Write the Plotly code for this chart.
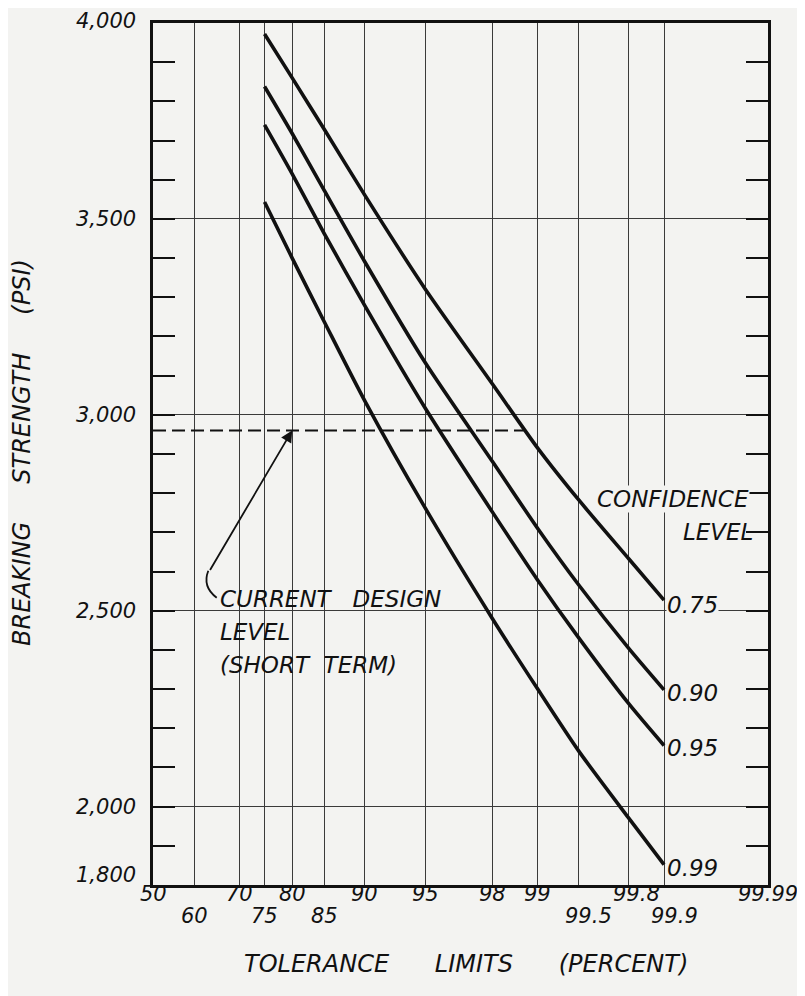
import plotly.graph_objects as go
from statistics import NormalDist

_nd = NormalDist()


def probit(p):
    return _nd.inv_cdf(p / 100.0)


# ---------------- data ----------------
tolerance_pct = [75, 80, 85, 90, 95, 98, 99, 99.5, 99.8, 99.9]
strength_075 = [3972, 3860, 3728, 3560, 3322, 3078, 2915, 2782, 2632, 2527]
strength_090 = [3838, 3718, 3572, 3390, 3134, 2880, 2710, 2565, 2403, 2298]
strength_095 = [3740, 3615, 3462, 3278, 3018, 2751, 2578, 2430, 2262, 2156]
strength_099 = [3543, 3400, 3237, 3035, 2763, 2479, 2300, 2141, 1970, 1852]
confidence_labels = ["0.75", "0.90", "0.95", "0.99"]

design_pct = [50, 98.75]
design_psi = [2960, 2960]

grid_pct = [60, 70, 75, 80, 85, 90, 95, 98, 99, 99.5, 99.8, 99.9]
xlab_row1 = ["50", "70", "80", "90", "95", "98", "99", "99.8", "99.99"]
xlab_row2 = ["60", "75", "85", "99.5", "99.9"]
y_major = [1800, 2000, 2500, 3000, 3500, 4000]
y_minor = [1900, 2100, 2200, 2300, 2400, 2600, 2700, 2800, 2900, 3100, 3200,
           3300, 3400, 3600, 3700, 3800, 3900]

BG = "#f3f3f1"
FONT = "DejaVu Sans"
INK = "#111111"

# page offset of the browser's default body margin
OFF = 8
L, R, T, B = 153 - OFF, 37, 21 - OFF, 111
PW, PH = 615, 864


def px(xp):
    return (xp - 153) / PW


def py(yp):
    return (885 - yp) / PH


x_lo, x_hi = probit(50), probit(99.99)

fig = go.Figure()

series = [strength_075, strength_090, strength_095, strength_099]
xs = [probit(p) for p in tolerance_pct]
for vals, lab in zip(series, confidence_labels):
    fig.add_trace(go.Scatter(x=xs, y=vals, mode="lines", name=lab,
                             line=dict(color=INK, width=3.6, shape="spline", smoothing=0.7),
                             hoverinfo="skip", showlegend=False))

fig.add_trace(go.Scatter(x=[probit(p) for p in design_pct], y=design_psi,
                         mode="lines", line=dict(color=INK, width=2.2, dash="13px,6px"),
                         hoverinfo="skip", showlegend=False))

ann = []
it = dict(family=FONT, size=21, color=INK, style="italic")

# x tick labels (two staggered rows)
for t in xlab_row1:
    sh = 8 if t in ("99.8",) else 0
    ann.append(dict(x=probit(float(t)), xref="x", y=0, yref="paper", text=t,
                    showarrow=False, xanchor="center", yanchor="middle",
                    yshift=-9, xshift=sh, font=it))
for t in xlab_row2:
    sh = 10 if t in ("99.5", "99.9") else 0
    ann.append(dict(x=probit(float(t)), xref="x", y=0, yref="paper", text=t,
                    showarrow=False, xanchor="center", yanchor="middle",
                    yshift=-31, xshift=sh, font=it))

# y tick labels
for v in y_major:
    ys = 10 if v == 1800 else (2 if v == 4000 else 0)
    ann.append(dict(x=0, xref="paper", y=v, yref="y", text=f"{v:,}",
                    showarrow=False, xanchor="right", yanchor="middle",
                    xshift=-15, yshift=ys, font=it))

big = dict(family=FONT, size=23, color=INK, style="italic")
ttl = dict(family=FONT, size=24, color=INK, style="italic")
NB = "\u00a0"

# axis titles
ann.append(dict(x=px(22), xref="paper", y=py(452), yref="paper",
                text=f"BREAKING{NB*5}STRENGTH{NB*5}(PSI)", textangle=-90,
                showarrow=False, xanchor="center", yanchor="middle", font=ttl))
ann.append(dict(x=px(466), xref="paper", y=py(964), yref="paper",
                text=f"TOLERANCE{NB*6}LIMITS{NB*6}(PERCENT)",
                showarrow=False, xanchor="center", yanchor="middle", font=ttl))

# confidence level labels at line ends
shifts = [-5, -3, -2, -3]
for vals, lab, s in zip(series, confidence_labels, shifts):
    ann.append(dict(x=probit(tolerance_pct[-1]), xref="x", y=vals[-1], yref="y",
                    text=lab, showarrow=False, xanchor="left", yanchor="middle",
                    xshift=2, yshift=s, font=big, bgcolor=BG, borderpad=0))

ann.append(dict(x=px(750), xref="paper", y=2800, yref="y",
                text="CONFIDENCE", showarrow=False, xanchor="right",
                yanchor="middle", yshift=-6, font=big, bgcolor=BG, borderpad=0))
ann.append(dict(x=px(755), xref="paper", y=2700, yref="y",
                text="LEVEL", showarrow=False, xanchor="right",
                yanchor="middle", yshift=0, font=big))

# current design level note
for txt, yy in [(f"CURRENT{NB*3}DESIGN", 598), ("LEVEL", 631), (f"(SHORT{NB*2}TERM)", 664)]:
    ann.append(dict(x=px(218), xref="paper", y=py(yy), yref="paper",
                    text=txt, showarrow=False, xanchor="left", yanchor="middle",
                    font=big))

# arrow to the design level
ann.append(dict(x=probit(80), xref="x", y=design_psi[0], yref="y", text="",
                showarrow=True, ax=-83, ay=141, arrowhead=2, arrowsize=1.3,
                arrowwidth=1.8, arrowcolor=INK, standoff=0))

shapes = [
    dict(type="rect", xref="paper", yref="paper", layer="between",
         x0=px(213), x1=px(452), y0=py(686), y1=py(583),
         fillcolor=BG, line=dict(width=0)),
    dict(type="path", xref="paper", yref="paper", layer="above",
         path="M {:.4f},{:.4f} Q {:.4f},{:.4f} {:.4f},{:.4f}".format(
             px(216.7), py(597), px(202), py(586), px(208.3), py(570)),
         line=dict(color=INK, width=1.8)),
]

fig.update_layout(
    width=L + PW + R, height=T + PH + B,
    margin=dict(l=L, r=R, t=T, b=B),
    paper_bgcolor=BG, plot_bgcolor=BG,
    font=dict(family=FONT, color=INK),
    annotations=ann, shapes=shapes,
    showlegend=False,
)

fig.update_xaxes(
    range=[x_lo, x_hi], tickmode="array", tickvals=[probit(p) for p in grid_pct],
    showticklabels=False, ticks="", showgrid=True, gridcolor="#3a3a3a", gridwidth=1,
    showline=True, linecolor=INK, linewidth=2.6, mirror=True, zeroline=False,
)
fig.update_yaxes(
    range=[1800, 4000], tickmode="array", tickvals=y_major, showticklabels=False,
    ticks="inside", ticklen=22, tickwidth=2.2, tickcolor=INK,
    showgrid=True, gridcolor="#3a3a3a", gridwidth=1,
    minor=dict(tickmode="array", tickvals=y_minor, ticks="inside", ticklen=22,
               tickwidth=2.2, tickcolor=INK, showgrid=False),
    showline=True, linecolor=INK, linewidth=2.8, mirror="ticks", zeroline=False,
)

fig.write_html("out.html")
